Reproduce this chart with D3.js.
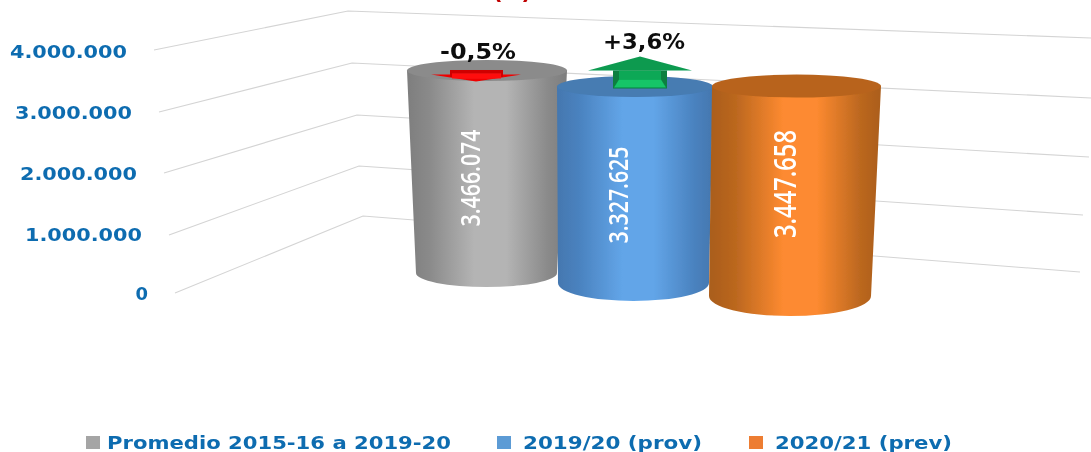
<!DOCTYPE html>
<html>
<head>
<meta charset="utf-8">
<script src="https://d3js.org/d3.v7.min.js"></script>
<style>
    html, body { margin: 0; padding: 0; background: #fff; }
    svg { display: block; }
</style>
</head>
<body>
<div id="chart"></div>
<script>
// Data
var categories = ["Promedio 2015-16 a 2019-20", "2019/20 (prov)", "2020/21 (prev)"];
var values = [3466074, 3327625, 3447658];
var valueLabels = ["3.466.074", "3.327.625", "3.447.658"];
var changes = [-0.5, 3.6];
var changeLabels = ["-0,5%", "+3,6%"];
var tickValues = [0, 1000000, 2000000, 3000000, 4000000];
var tickLabels = ["0", "1.000.000", "2.000.000", "3.000.000", "4.000.000"];

var width = 1091, height = 452;
var blue = "#0f6cb0";

var svg = d3.select("#chart").append("svg")
    .attr("width", width)
    .attr("height", height);

var defs = svg.append("defs");
defs.append("filter").attr("id", "soft")
    .attr("x", "-5%").attr("y", "-5%").attr("width", "110%").attr("height", "110%")
    .append("feGaussianBlur").attr("stdDeviation", 0.65);

var root = svg.append("g").attr("filter", "url(#soft)");

// The walls of the 3D plot: one y scale per vertical edge, all bent a little by perspective
var frontY = d3.scaleLinear().domain(tickValues).range([293, 235, 173, 112, 50]);
var frontX = d3.scaleLinear().domain(tickValues).range([175, 169, 164, 159, 154]);
var cornerY = d3.scaleLinear().domain(tickValues).range([216, 166, 115, 63, 11]);
var cornerX = d3.scaleLinear().domain(tickValues).range([363, 359, 357, 352, 348]);
var backY = d3.scaleLinear().domain(tickValues).range([272, 215, 157, 98, 38]);
var backX = d3.scaleLinear().domain(tickValues).range([1080, 1083, 1089, 1091, 1091]);
var labelX = d3.scaleLinear().domain(tickValues).range([148, 142, 137, 132, 127]);
var labelY = d3.scaleLinear().domain(tickValues).range([300, 241, 180, 119, 58]);

// Each column stands at its own depth, so each gets its own floor and its own y scale
var floorY = d3.scaleOrdinal().domain(categories).range([273, 283, 296]);
var fourMillionY = d3.scaleOrdinal().domain(categories).range([39.3, 46.8, 52.4]);
var baseCx = d3.scaleOrdinal().domain(categories).range([486.5, 633.5, 790]);
var topCx = d3.scaleOrdinal().domain(categories).range([487, 635, 796.5]);
var baseRx = d3.scaleOrdinal().domain(categories).range([70.5, 75.5, 81]);
var topRx = d3.scaleOrdinal().domain(categories).range([80, 78, 84.5]);
var baseRy = d3.scaleOrdinal().domain(categories).range([14, 18, 20]);
var topRy = d3.scaleOrdinal().domain(categories).range([10.5, 10.5, 11.5]);
var edgeColor = d3.scaleOrdinal().domain(categories).range(["#8a8a8a", "#4a82bf", "#bb671f"]);
var midColor = d3.scaleOrdinal().domain(categories).range(["#b4b4b4", "#62a5e8", "#fd8a30"]);
var capColor = d3.scaleOrdinal().domain(categories).range(["#8b8b8b", "#467bb2", "#b8641f"]);
var swatchColor = d3.scaleOrdinal().domain(categories).range(["#a5a5a5", "#5b9bd5", "#ed7d31"]);

// Where the rotated value labels sit inside the columns
var valueLabelX = d3.scaleOrdinal().domain(categories).range([470, 618, 785]);
var valueLabelY = d3.scaleOrdinal().domain(categories).range([178, 195, 184]);
var valueLabelLength = d3.scaleOrdinal().domain(categories).range([97, 97, 108]);
var valueLabelSize = d3.scaleOrdinal().domain(categories).range([27, 27, 30]);

function columnY(cat, v) {
    return d3.scaleLinear().domain([0, 4000000]).range([floorY(cat), fourMillionY(cat)])(v);
}

// Grid lines
var gridLine = d3.line();
root.append("g").selectAll("path")
    .data(tickValues)
    .join("path")
    .attr("d", function (t) {
        return gridLine([[frontX(t), frontY(t)], [cornerX(t), cornerY(t)], [backX(t), backY(t)]]);
    })
    .attr("fill", "none")
    .attr("stroke", "#d4d4d4")
    .attr("stroke-width", 1.1);

// Value axis labels
root.append("g").selectAll("text")
    .data(tickValues)
    .join("text")
    .attr("x", labelX)
    .attr("y", labelY)
    .attr("text-anchor", "end")
    .attr("font-family", "'DejaVu Sans'")
    .attr("font-weight", "bold")
    .attr("font-size", 18)
    .attr("textLength", function (t) { return t === 0 ? null : 117; })
    .attr("lengthAdjust", "spacingAndGlyphs")
    .attr("fill", blue)
    .text(function (t, i) { return tickLabels[i]; });

// Title, nearly all of it cropped off by the top edge of the picture
root.append("text")
    .attr("x", 512)
    .attr("y", -3)
    .attr("text-anchor", "middle")
    .attr("font-family", "'Liberation Sans'")
    .attr("font-weight", "bold")
    .attr("font-size", 24)
    .attr("textLength", 38)
    .attr("lengthAdjust", "spacing")
    .attr("fill", "#c00000")
    .text("(t)");

// Cylinders
categories.forEach(function (cat, i) {
    var topY = columnY(cat, values[i]);
    var by = floorY(cat), tx = topCx(cat), bx = baseCx(cat);
    var trx = topRx(cat), try_ = topRy(cat), brx = baseRx(cat), bry = baseRy(cat);
    var g = root.append("g");

    var grad = defs.append("linearGradient")
        .attr("id", "cyl" + i)
        .attr("gradientUnits", "userSpaceOnUse")
        .attr("x1", tx - trx).attr("x2", tx + trx)
        .attr("y1", 0).attr("y2", 0);
    [[0, d3.color(edgeColor(cat)).darker(0.25)], [0.14, edgeColor(cat)], [0.42, midColor(cat)], [0.62, midColor(cat)], [0.88, edgeColor(cat)], [1, d3.color(edgeColor(cat)).darker(0.25)]]
        .forEach(function (s) {
            grad.append("stop").attr("offset", s[0]).attr("stop-color", s[1]);
        });

    g.append("path")
        .attr("d", "M" + (tx - trx) + "," + topY +
            "L" + (bx - brx) + "," + by +
            "A" + brx + "," + bry + " 0 0 0 " + (bx + brx) + "," + by +
            "L" + (tx + trx) + "," + topY + "Z")
        .attr("fill", "url(#cyl" + i + ")");

    g.append("ellipse")
        .attr("cx", tx).attr("cy", topY)
        .attr("rx", trx).attr("ry", try_)
        .attr("fill", capColor(cat));

    // Rotated value label inside the column
    g.append("text")
        .attr("transform", "translate(" + (valueLabelX(cat) + valueLabelSize(cat) * 0.36) + "," + valueLabelY(cat) + ") rotate(-90)")
        .attr("text-anchor", "middle")
        .attr("font-family", "'Open Sans'")
        .attr("font-weight", 600)
        .attr("font-size", valueLabelSize(cat))
        .attr("textLength", valueLabelLength(cat))
        .attr("lengthAdjust", "spacingAndGlyphs")
        .attr("fill", "#ffffff")
        .text(valueLabels[i]);
});

// Change arrows sit on the cap of the column they belong to
function drawArrow(cat, change) {
    var topY = columnY(cat, values[categories.indexOf(cat)]);
    var g = root.append("g");
    if (change < 0) {
        var x = topCx(cat) - 11;
        g.append("path")
            .attr("d", "M" + (x - 45) + "," + (topY + 4) + "L" + (x + 45) + "," + (topY + 4) + "L" + x + "," + (topY + 11) + "Z")
            .attr("fill", "#f00000");
        g.append("rect")
            .attr("x", x - 26).attr("y", topY - 0.5)
            .attr("width", 53).attr("height", 7)
            .attr("fill", "#cf0000");
        g.append("rect")
            .attr("x", x - 24).attr("y", topY + 3)
            .attr("width", 49).attr("height", 5)
            .attr("fill", "#ff1010");
    } else {
        var cx = topCx(cat) + 5;
        g.append("path")
            .attr("d", "M" + cx + "," + (topY - 30) + "L" + (cx + 52) + "," + (topY - 16) + "L" + (cx - 52) + "," + (topY - 16) + "Z")
            .attr("fill", "#0b9a50");
        g.append("rect")
            .attr("x", cx - 27).attr("y", topY - 16)
            .attr("width", 54).attr("height", 18)
            .attr("fill", "#077f40");
        g.append("path")
            .attr("d", "M" + (cx - 21) + "," + (topY - 16) + "L" + (cx + 21) + "," + (topY - 16) + "L" + (cx + 21) + "," + (topY - 7) + "L" + (cx - 21) + "," + (topY - 7) + "Z")
            .attr("fill", "#0aa857");
        g.append("path")
            .attr("d", "M" + (cx - 21) + "," + (topY - 7) + "L" + (cx + 21) + "," + (topY - 7) + "L" + (cx + 26) + "," + (topY + 1) + "L" + (cx - 26) + "," + (topY + 1) + "Z")
            .attr("fill", "#12c567");
    }
}
drawArrow(categories[0], changes[0]);
drawArrow(categories[1], changes[1]);

// Change labels above the arrows
root.append("g").selectAll("text")
    .data(changeLabels)
    .join("text")
    .attr("x", function (d, i) { return topCx(categories[i]) + (i === 0 ? -9 : 9); })
    .attr("y", function (d, i) { return columnY(categories[i], values[i]) + (i === 0 ? -11 : -38); })
    .attr("text-anchor", "middle")
    .attr("font-family", "'DejaVu Sans'")
    .attr("font-weight", "bold")
    .attr("font-size", 21)
    .attr("textLength", function (d, i) { return i === 0 ? 76 : 82; })
    .attr("lengthAdjust", "spacingAndGlyphs")
    .attr("fill", "#111")
    .text(function (d) { return d; });

// Legend
var legendX = d3.scaleOrdinal().domain(categories).range([86, 497, 749]);
var legendTextWidth = d3.scaleOrdinal().domain(categories).range([344, 179, 177]);
var legendTextGap = d3.scaleOrdinal().domain(categories).range([21, 26, 26]);
var legend = root.append("g").selectAll("g")
    .data(categories)
    .join("g")
    .attr("transform", function (c) { return "translate(" + legendX(c) + ",436)"; });
legend.append("rect")
    .attr("width", 14)
    .attr("height", 13)
    .attr("fill", swatchColor);
legend.append("text")
    .attr("x", legendTextGap)
    .attr("y", 13)
    .attr("font-family", "'DejaVu Sans'")
    .attr("font-weight", "bold")
    .attr("font-size", 18.5)
    .attr("textLength", legendTextWidth)
    .attr("lengthAdjust", "spacingAndGlyphs")
    .attr("fill", blue)
    .text(function (c) { return c; });
</script>
</body>
</html>
